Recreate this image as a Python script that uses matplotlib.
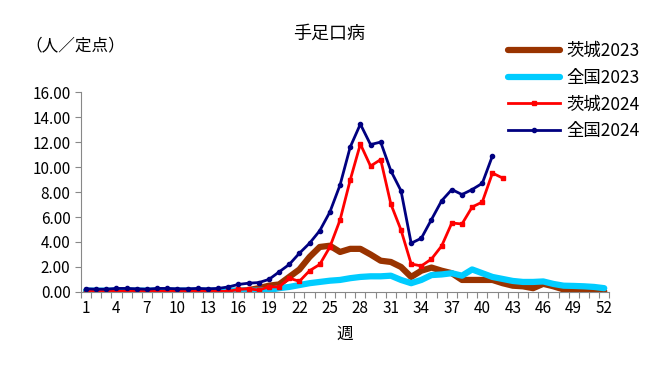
import numpy as np
import matplotlib
matplotlib.use("Agg")
import matplotlib.pyplot as plt

plt.rcParams['font.family'] = ['Noto Sans CJK JP', 'DejaVu Sans']

# 週
semanas = np.arange(1, 53)

# 茨城2023
ibaraki_2023 = [0.05, 0.05, 0.05, 0.05, 0.05, 0.05, 0.05, 0.05, 0.05, 0.05,
                0.05, 0.05, 0.05, 0.05, 0.05, 0.1, 0.15, 0.3, 0.5, 0.6,
                1.2, 1.8, 2.8, 3.6, 3.7, 3.2, 3.45, 3.45, 3.0, 2.5,
                2.4, 2.0, 1.2, 1.7, 1.95, 1.7, 1.5, 0.96, 0.96, 0.96,
                0.96, 0.7, 0.5, 0.45, 0.3, 0.65, 0.45, 0.2, 0.2, 0.15,
                0.1, 0.05]

# 全国2023
zenkoku_2023 = [0.1, 0.1, 0.1, 0.1, 0.1, 0.1, 0.1, 0.1, 0.1, 0.1,
                0.1, 0.1, 0.1, 0.1, 0.1, 0.1, 0.1, 0.1, 0.15, 0.3,
                0.4, 0.55, 0.7, 0.8, 0.9, 0.96, 1.1, 1.2, 1.25, 1.25,
                1.3, 0.96, 0.7, 0.96, 1.35, 1.4, 1.5, 1.3, 1.8, 1.5,
                1.2, 1.04, 0.88, 0.8, 0.8, 0.84, 0.64, 0.5, 0.48, 0.45,
                0.4, 0.3]

# 茨城2024 (hasta la semana 42)
ibaraki_2024 = [0.1, 0.05, 0.05, 0.05, 0.05, 0.05, 0.05, 0.05, 0.05, 0.05,
                0.05, 0.05, 0.05, 0.05, 0.05, 0.2, 0.25, 0.15, 0.4, 0.4,
                1.1, 0.85, 1.7, 2.2, 3.6, 5.76, 8.96, 11.84, 10.08, 10.6,
                7.04, 4.96, 2.24, 2.08, 2.64, 3.68, 5.52, 5.44, 6.8, 7.2,
                9.52, 9.12]

# 全国2024 (hasta la semana 41)
zenkoku_2024 = [0.25, 0.22, 0.22, 0.28, 0.28, 0.25, 0.22, 0.28, 0.28, 0.25,
                0.25, 0.28, 0.25, 0.28, 0.4, 0.6, 0.7, 0.75, 1.0, 1.6,
                2.2, 3.1, 3.9, 4.9, 6.4, 8.56, 11.6, 13.44, 11.8, 12.0,
                9.7, 8.1, 3.9, 4.3, 5.8, 7.3, 8.2, 7.8, 8.2, 8.7,
                10.9]

etiquetas_x = list(range(1, 53, 3))

fig = plt.figure(figsize=(6.58, 3.70), dpi=100)
ax = fig.add_axes([0.123, 0.211, 0.803, 0.540])

ax.plot(semanas, ibaraki_2023, color='#993300', lw=4.5, solid_capstyle='round',
        solid_joinstyle='round', label='茨城2023')
ax.plot(semanas, zenkoku_2023, color='#00CCFF', lw=4.5, solid_capstyle='round',
        solid_joinstyle='round', label='全国2023')
ax.plot(semanas[:len(ibaraki_2024)], ibaraki_2024, color='#FF0000', lw=2.0,
        marker='s', ms=3.5, label='茨城2024')
ax.plot(semanas[:len(zenkoku_2024)], zenkoku_2024, color='#000080', lw=2.0,
        marker='o', ms=3.0, label='全国2024')

ax.set_xlim(0.5, 52.5)
ax.set_ylim(0, 16)
ax.set_yticks(np.arange(0, 17, 2))
ax.set_yticklabels([f"{v:.2f}" for v in np.arange(0, 17, 2)], fontsize=11)
ax.set_xticks(etiquetas_x)
ax.set_xticklabels([str(s) for s in etiquetas_x], fontsize=11)
ax.set_xticks(np.arange(0.5, 53, 1), minor=True)
ax.tick_params(axis='x', which='major', length=0, pad=6)
ax.tick_params(axis='x', which='minor', length=4, color='#888888', width=0.8)
ax.tick_params(axis='y', length=4, color='#888888', width=0.8)

for lado in ['top', 'right']:
    ax.spines[lado].set_visible(False)
for lado in ['left', 'bottom']:
    ax.spines[lado].set_color('#888888')

ax.set_xlabel('週', fontsize=12, labelpad=6)

fig.text(0.50, 0.91, '手足口病', ha='center', va='center', fontsize=13)
fig.text(0.038, 0.875, '（人／定点）', ha='left', va='center', fontsize=12)

fig.legend(loc='upper left', bbox_to_anchor=(0.762, 0.905), frameon=False,
           fontsize=12.5, handlelength=3.0, labelspacing=0.5, handletextpad=0.35,
           borderaxespad=0)

fig.savefig('out.png', dpi=100)
